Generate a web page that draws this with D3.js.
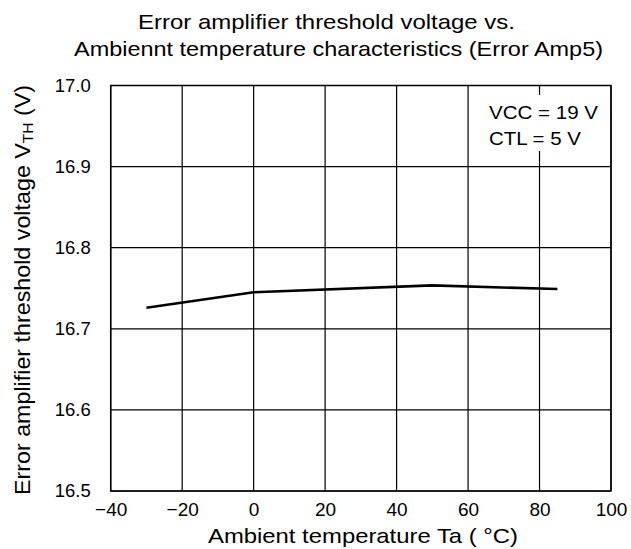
<!DOCTYPE html>
<html>
<head>
<meta charset="utf-8">
<script src="https://cdn.jsdelivr.net/npm/d3@7"></script>
<style>
  body { margin: 0; background: #fff; }
  svg text { font-family: "Liberation Sans", Arial, sans-serif; fill: #000; }
</style>
</head>
<body>
<div id="main"></div>
<script>
// data
const temps = [-30, 0, 50, 85];
const vth = [16.726, 16.745, 16.7535, 16.749];
const xTicks = [-40, -20, 0, 20, 40, 60, 80, 100];
const yTicks = [16.5, 16.6, 16.7, 16.8, 16.9, 17.0];
const titleLines = ["Error amplifier threshold voltage vs.",
    "Ambiennt temperature characteristics (Error Amp5)"];
const noteLines = ["VCC = 19 V", "CTL = 5 V"];

const w = 631, h = 549;
const padL = 110.7, padR = 611, padT = 85.5, padB = 491;

const svg = d3.select("#main").append("svg").attr("width", w).attr("height", h);

const xScale = d3.scaleLinear().domain([-40, 100]).range([padL, padR]);
const yScale = d3.scaleLinear().domain([16.5, 17.0]).range([padB, padT]);

// grid
svg.append("g").selectAll("line")
    .data(xTicks)
    .enter().append("line")
    .attr("x1", d => xScale(d)).attr("x2", d => xScale(d))
    .attr("y1", padT).attr("y2", padB)
    .attr("stroke", "#000").attr("stroke-width", 1.2);
svg.append("g").selectAll("line")
    .data(yTicks)
    .enter().append("line")
    .attr("x1", padL).attr("x2", padR)
    .attr("y1", d => yScale(d)).attr("y2", d => yScale(d))
    .attr("stroke", "#000").attr("stroke-width", 1.2);

// note box (covers the grid)
svg.append("rect")
    .attr("x", 481).attr("y", 95)
    .attr("width", 124).attr("height", 56)
    .attr("fill", "#fff");
svg.selectAll(".note")
    .data(noteLines)
    .enter().append("text")
    .attr("class", "note")
    .attr("x", 489)
    .attr("y", (d, i) => 119 + i * 26)
    .attr("textLength", (d, i) => i === 0 ? 109 : 92)
    .attr("lengthAdjust", "spacingAndGlyphs")
    .style("font-size", "18.5px")
    .text(d => d);

// border
svg.append("rect")
    .attr("x", padL).attr("y", padT)
    .attr("width", padR - padL).attr("height", padB - padT)
    .attr("fill", "none").attr("stroke", "#000").attr("stroke-width", 1.5);

// curve
const line = d3.line()
    .x((d, i) => xScale(temps[i]))
    .y(d => yScale(d));
svg.append("path")
    .datum(vth)
    .attr("d", line)
    .attr("fill", "none")
    .attr("stroke", "#000")
    .attr("stroke-width", 2.6);

// axes (labels only)
const xAxis = d3.axisBottom(xScale).tickValues(xTicks).tickSize(0).tickPadding(0)
    .tickFormat(d => d < 0 ? "\u2212" + Math.abs(d) : d);
const yAxis = d3.axisLeft(yScale).tickValues(yTicks).tickSize(0).tickPadding(0)
    .tickFormat(d3.format(".1f"));

const gx = svg.append("g").attr("transform", "translate(0," + (padB + 11) + ")").call(xAxis);
gx.select(".domain").remove();
gx.selectAll("text").attr("dy", "0.71em").style("font-size", "19px").style("font-family", "Liberation Sans, Arial, sans-serif").attr("fill", "#000");

const gy = svg.append("g").attr("transform", "translate(" + (padL - 20) + ",0)").call(yAxis);
gy.select(".domain").remove();
gy.selectAll("text").style("font-size", "18.5px").style("font-family", "Liberation Sans, Arial, sans-serif").attr("fill", "#000");

// title
svg.selectAll(".title")
    .data(titleLines)
    .enter().append("text")
    .attr("class", "title")
    .attr("x", (d, i) => i === 0 ? 138 : 74)
    .attr("y", (d, i) => 29 + i * 26.5)
    .attr("textLength", (d, i) => i === 0 ? 377 : 529)
    .attr("lengthAdjust", "spacingAndGlyphs")
    .style("font-size", "21px")
    .text(d => d);

// axis titles
svg.append("text")
    .attr("x", 208).attr("y", 543)
    .attr("textLength", 310)
    .attr("lengthAdjust", "spacingAndGlyphs")
    .style("font-size", "21px")
    .text("Ambient temperature Ta ( \u00b0C)");

const yt = svg.append("text")
    .attr("transform", "translate(30,495) rotate(-90)")
    .attr("textLength", 410)
    .attr("lengthAdjust", "spacingAndGlyphs")
    .style("font-size", "22.5px");
yt.append("tspan").text("Error amplifier threshold voltage V");
yt.append("tspan").style("font-size", "15px").attr("dy", "3").text("TH");
yt.append("tspan").attr("dy", "-3").text(" (V)");
</script>
</body>
</html>
